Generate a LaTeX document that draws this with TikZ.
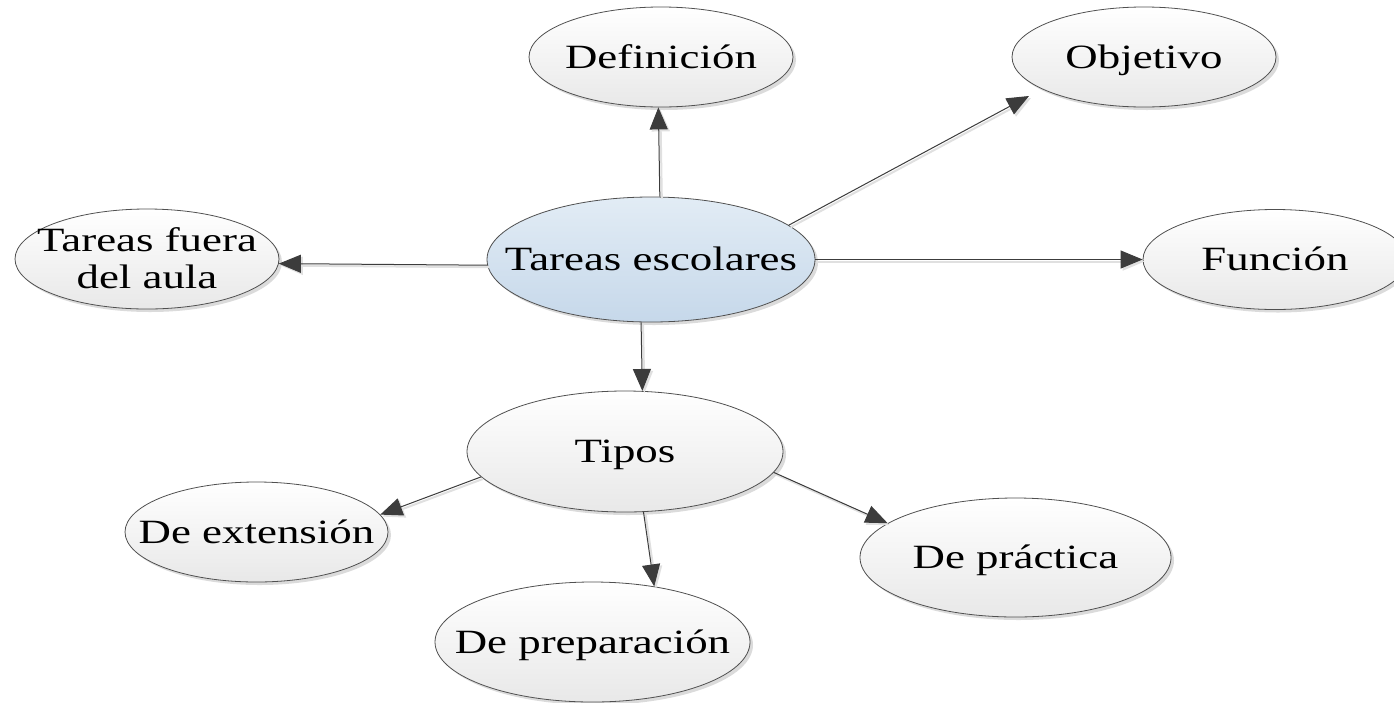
\documentclass[tikz,border=0pt]{standalone}
\usepackage{fontspec}
\setmainfont{Liberation Serif}[FakeStretch=1.32]
\usetikzlibrary{shapes.geometric,arrows.meta,shadows}
\definecolor{edgec}{HTML}{3C3C3C}
\definecolor{outl}{HTML}{505050}
\definecolor{gbot}{HTML}{E8E8E8}
\definecolor{btop}{HTML}{E2ECF5}
\definecolor{bbot}{HTML}{C6D8EA}
\newcommand{\ctext}[1]{\makebox[0pt]{\raisebox{-11.2pt}[0pt][0pt]{#1}}}
\tikzset{
  bubble/.style={ellipse, draw=outl, line width=0.8pt, inner sep=0pt,
    top color=white, bottom color=gbot,
    drop shadow={shadow xshift=3pt, shadow yshift=-3pt, fill=black, opacity=0.14},
    font=\fontsize{34}{37}\selectfont},
  hub/.style={bubble, top color=btop, bottom color=bbot},
  small/.style={minimum width=264pt, minimum height=100pt},
  link/.style={draw=edgec, line width=1pt, -{Triangle[length=22pt,width=18pt]},
    preaction={draw=black!12, line width=2pt, transform canvas={xshift=2pt,yshift=-2pt}}}
}
\begin{document}
\begin{tikzpicture}[x=1pt,y=-1pt]
\useasboundingbox (0,0) rectangle (1394,702);
\clip (0,0) rectangle (1394,702);
\fill[white] (0,0) rectangle (1394,702);

\node[hub, minimum width=328pt, minimum height=125pt] (te) at (651,259.5) {\ctext{Tareas escolares}};
\node[bubble, small] (def) at (661,57) {\ctext{Definición}};
\node[bubble, small] (obj) at (1144,57) {\ctext{Objetivo}};
\node[bubble, small] (fun) at (1275,259.5) {\ctext{Función}};
\node[bubble, small] (tfa) at (147,259) {\makebox[0pt]{\raisebox{-29.7pt}[0pt][0pt]{\begin{tabular}[b]{@{}c@{}}Tareas fuera\\del aula\end{tabular}}}};
\node[bubble, minimum width=316pt, minimum height=121pt] (tip) at (625,451.5) {\ctext{Tipos}};
\node[bubble, minimum width=263pt, minimum height=100pt] (ext) at (256.5,532) {\ctext{De extensión}};
\node[bubble, minimum width=315pt, minimum height=120pt] (prep) at (592.5,642) {\ctext{De preparación}};
\node[bubble, minimum width=311pt, minimum height=119pt] (prac) at (1015.5,557.5) {\ctext{De práctica}};

\draw[link] (te.82) -- (def.-93);
\draw[link] (te.14) -- ([shift={(-115,39)}]obj.center);
\draw[link] (te.east) -- (fun.west);
\draw[link] (te.182) -- (tfa.-2);
\draw[link] (te.-99) -- (tip.74);
\draw[link] (tip.190) -- (ext.8);
\draw[link] (tip.-73) -- (prep.42);
\draw[link] (tip.-8) -- (prac.165);
\end{tikzpicture}
\end{document}
